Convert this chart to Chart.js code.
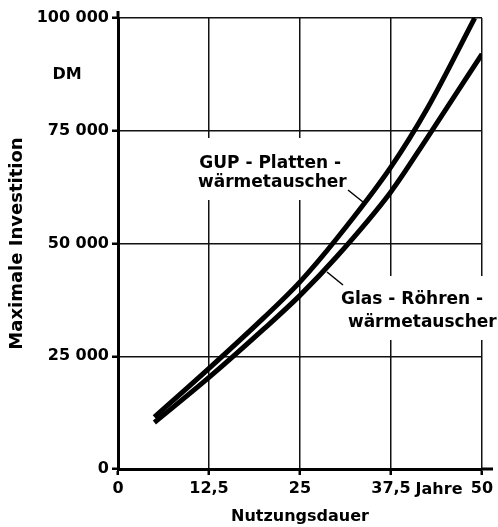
<!DOCTYPE html>
<html lang="de">
<head>
<meta charset="utf-8">
<script src="https://cdn.jsdelivr.net/npm/chart.js"></script>
<style>
  body { margin: 0; background: #fff; }
  canvas { display: block; }
</style>
</head>
<body>
<canvas id="chart" width="498" height="527"></canvas>
<script>
// Nutzungsdauer in Jahren / maximale Investition in DM
const gupJahre = [5, 12.5, 20, 25, 30, 37.5, 42.5, 49];
const gupWerte = [11500, 22300, 33500, 41500, 51000, 67000, 80000, 100000];
const glasJahre = [5, 12.5, 20, 25, 30, 37.5, 42.5, 50];
const glasWerte = [10300, 20300, 31000, 38500, 47000, 61500, 73500, 92000];

const xTicks = [0, 12.5, 25, 37.5, 50];
const yTicks = [0, 25000, 50000, 75000, 100000];

const schrift = '"DejaVu Sans", sans-serif';

function punkte(xs, ys) {
    return xs.map((x, i) => ({ x: x, y: ys[i] }));
}

// Beschriftungen im Diagramm, weisser Hintergrund unterbricht das Gitter
const beschriftung = {
    id: 'beschriftung',
    beforeDatasetsDraw(chart) {
        const ctx = chart.ctx;
        ctx.save();
        ctx.fillStyle = '#fff';
        ctx.fillRect(188, 138, 164, 62);
        ctx.fillRect(340, 276, 158, 64);
        ctx.restore();
    },
    afterDraw(chart) {
        const ctx = chart.ctx;
        const xs = chart.scales.x, ys = chart.scales.y;
        const a = chart.chartArea;
        ctx.save();
        // Achsen etwas verlaengert
        ctx.strokeStyle = '#000';
        ctx.lineWidth = 3;
        ctx.beginPath();
        ctx.moveTo(a.left, a.top);
        ctx.lineTo(a.left, a.top - 7);
        ctx.moveTo(a.right, a.bottom);
        ctx.lineTo(a.right + 11, a.bottom);
        ctx.stroke();

        // Hinweislinien
        ctx.lineWidth = 1.5;
        ctx.beginPath();
        ctx.moveTo(348, 190);
        ctx.lineTo(363, 202);
        ctx.moveTo(327, 272);
        ctx.lineTo(343, 285);
        ctx.stroke();

        ctx.fillStyle = '#000';
        ctx.font = 'bold 17px ' + schrift;
        ctx.textAlign = 'center';
        ctx.textBaseline = 'middle';
        ctx.fillText('GUP - Platten -', xs.getPixelForValue(20.9), ys.getPixelForValue(67800));
        ctx.fillText('wärmetauscher', xs.getPixelForValue(21.2), ys.getPixelForValue(63400));
        ctx.fillText('Glas - Röhren -', xs.getPixelForValue(40.4), ys.getPixelForValue(37600));
        ctx.fillText('wärmetauscher', xs.getPixelForValue(41.8), ys.getPixelForValue(32500));
        ctx.font = 'bold 16px ' + schrift;
        ctx.fillText('DM', 67, ys.getPixelForValue(87500));
        ctx.fillText('Jahre', xs.getPixelForValue(44.1), a.bottom + 21);
        ctx.restore();
    }
};

new Chart(document.getElementById('chart'), {
    type: 'line',
    data: {
        datasets: [{
            label: 'GUP-Plattenwärmetauscher',
            data: punkte(gupJahre, gupWerte),
            borderColor: '#000',
            borderWidth: 5,
            pointRadius: 0,
            cubicInterpolationMode: 'monotone'
        }, {
            label: 'Glas-Röhrenwärmetauscher',
            data: punkte(glasJahre, glasWerte),
            borderColor: '#000',
            borderWidth: 5,
            pointRadius: 0,
            cubicInterpolationMode: 'monotone'
        }]
    },
    options: {
        responsive: false,
        animation: false,
        devicePixelRatio: 1,
        layout: { padding: { top: 18, right: 16, left: 0, bottom: 0 } },
        plugins: {
            legend: { display: false },
            tooltip: { enabled: false }
        },
        scales: {
            x: {
                type: 'linear',
                min: 0,
                max: 50,
                afterBuildTicks: (s) => { s.ticks = xTicks.map(v => ({ value: v })); },
                afterFit: (s) => { s.height = 58; },
                ticks: {
                    color: '#000',
                    font: { family: schrift, size: 16, weight: 'bold' },
                    padding: 4,
                    maxRotation: 0,
                    callback: (v) => String(v).replace('.', ',')
                },
                grid: { color: '#111', lineWidth: 1.5, tickLength: 6, tickWidth: 2.5, tickColor: '#000' },
                border: { color: '#000', width: 3 },
                title: {
                    display: true,
                    text: 'Nutzungsdauer',
                    color: '#000',
                    font: { family: schrift, size: 16, weight: 'bold' },
                    padding: { top: 0, bottom: 1 }
                }
            },
            y: {
                min: 0,
                max: 100000,
                afterBuildTicks: (s) => { s.ticks = yTicks.map(v => ({ value: v })); },
                afterFit: (s) => { s.width = 118; },
                ticks: {
                    color: '#000',
                    font: { family: schrift, size: 16, weight: 'bold' },
                    padding: 3,
                    callback: (v) => String(v).replace(/\B(?=(\d{3})+$)/g, ' ')
                },
                grid: { color: '#111', lineWidth: 1.5, tickLength: 6, tickWidth: 2.5, tickColor: '#000' },
                border: { color: '#000', width: 3 },
                title: {
                    display: true,
                    text: 'Maximale Investition',
                    color: '#000',
                    font: { family: schrift, size: 18, weight: 'bold' },
                    padding: { top: 7, bottom: 0 }
                }
            }
        }
    },
    plugins: [beschriftung]
});
</script>
</body>
</html>
